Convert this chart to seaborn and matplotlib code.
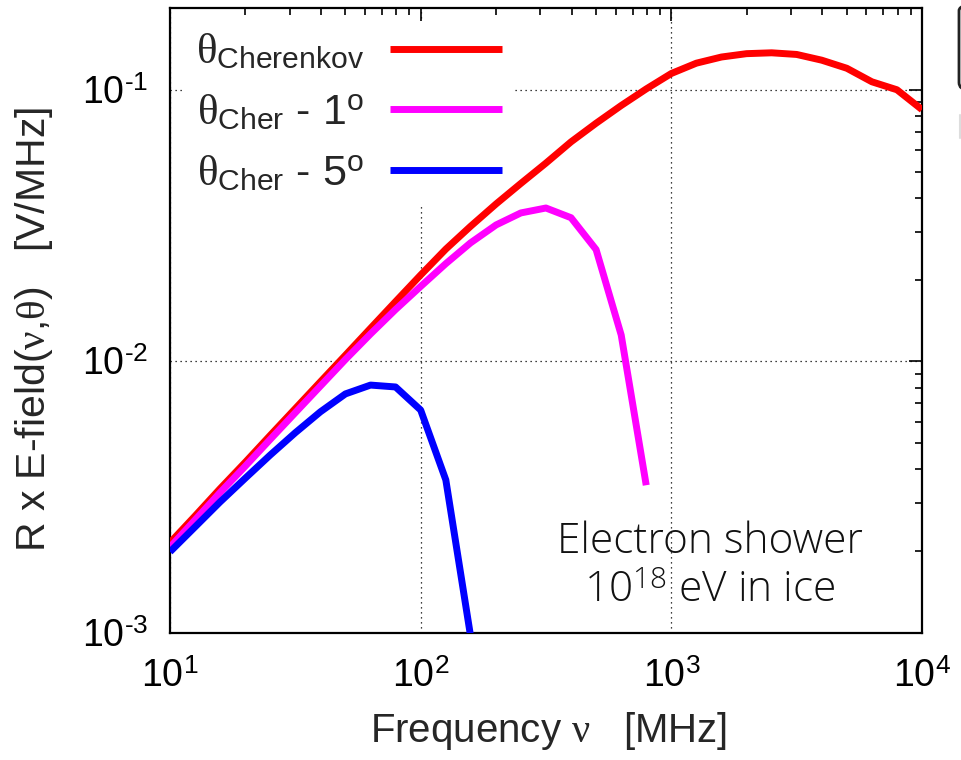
import numpy as np
import pandas as pd
import seaborn as sns
import matplotlib
matplotlib.use("Agg")
import matplotlib.pyplot as plt
from matplotlib.patches import FancyBboxPatch
from matplotlib.lines import Line2D
from matplotlib.ticker import FixedLocator, FixedFormatter, LogLocator, NullFormatter

# ---------------- data ----------------
freq_mhz = [10, 12.6, 15.8, 20, 25.1, 31.6, 39.8, 50.1, 63.1, 79.4,
            100, 126, 158, 200, 251, 316, 398, 501, 631, 794,
            1000, 1259, 1585, 1995, 2512, 3162, 3981, 5012, 6310, 7943, 10000]

e_cherenkov = [0.00215, 0.00270, 0.00339, 0.00426, 0.00534, 0.00670, 0.00841, 0.01054, 0.01324, 0.0166,
               0.0208, 0.0259, 0.0314, 0.0380, 0.0452, 0.0537, 0.0643, 0.0753, 0.0875, 0.1007,
               0.1148, 0.1253, 0.1320, 0.1358, 0.1368, 0.1349, 0.1285, 0.1200, 0.1070, 0.1000, 0.0845]

e_cher_1deg = [0.00207, 0.00261, 0.00328, 0.00412, 0.00516, 0.00647, 0.00811, 0.01016, 0.01262, 0.01552,
               0.01888, 0.0229, 0.0273, 0.0318, 0.0352, 0.0367, 0.0338, 0.0258, 0.0125, 0.0035]

e_cher_5deg = [0.00199, 0.00246, 0.00303, 0.00372, 0.00452, 0.00546, 0.00652, 0.00759, 0.00818, 0.00805,
               0.00662, 0.00366, 0.00098]

series_labels = [r'$\theta_{\mathrm{Cherenkov}}$',
                 r'$\theta_{\mathrm{Cher}}$ - 1$^{\mathrm{o}}$',
                 r'$\theta_{\mathrm{Cher}}$ - 5$^{\mathrm{o}}$']
series_colors = ['#ff0000', '#ff00ff', '#0000ff']

xtick_vals = [10, 100, 1000, 10000]
xtick_labels = [r'$\mathrm{10}^{\mathrm{1}}$', r'$\mathrm{10}^{\mathrm{2}}$',
                r'$\mathrm{10}^{\mathrm{3}}$', r'$\mathrm{10}^{\mathrm{4}}$']
ytick_vals = [0.001, 0.01, 0.1]
ytick_labels = [r'$\mathrm{10}^{\text{-}\mathrm{3}}$', r'$\mathrm{10}^{\text{-}\mathrm{2}}$',
                r'$\mathrm{10}^{\text{-}\mathrm{1}}$']

x_label = r'Frequency $\nu$   [MHz]'
y_label = r'R x E-field($\nu$,$\theta$)   [V/MHz]'
note_line1 = 'Electron shower'
note_line2 = r'$\mathsf{10}^{\mathsf{18}}$ eV in ice'

# ---------------- style ----------------
sns.set_theme(style="white")
plt.rcParams['font.family'] = ['Liberation Sans', 'DejaVu Sans']
plt.rcParams['mathtext.fontset'] = 'custom'
plt.rcParams['mathtext.rm'] = 'Liberation Sans'
plt.rcParams['mathtext.it'] = 'Liberation Serif'
plt.rcParams['mathtext.bf'] = 'Liberation Sans:bold'
plt.rcParams['mathtext.sf'] = 'Open Sans:light'

fig = plt.figure(figsize=(9.61, 7.60), dpi=100)
ax = fig.add_axes([170/961, 127/760, 752/961, 625/760])

frames = []
for lab, vals in zip(series_labels, [e_cherenkov, e_cher_1deg, e_cher_5deg]):
    frames.append(pd.DataFrame({'freq': freq_mhz[:len(vals)], 'E': vals, 'series': lab}))
df = pd.concat(frames, ignore_index=True)

LW = 5.0
for lab, col in zip(series_labels, series_colors):
    sub = df[df['series'] == lab]
    sns.lineplot(data=sub, x='freq', y='E', ax=ax, color=col, lw=LW,
                 label=lab, sort=False, estimator=None, zorder=6,
                 solid_joinstyle='round', solid_capstyle='butt')

ax.set_xscale('log')
ax.set_yscale('log')
ax.set_xlim(10, 10000)
ax.set_ylim(1e-3, 0.2)

ax.xaxis.set_major_locator(FixedLocator(xtick_vals))
ax.xaxis.set_major_formatter(FixedFormatter(xtick_labels))
ax.yaxis.set_major_locator(FixedLocator(ytick_vals))
ax.yaxis.set_major_formatter(FixedFormatter(ytick_labels))
ax.xaxis.set_minor_locator(LogLocator(base=10, subs=np.arange(2, 10), numticks=20))
ax.yaxis.set_minor_locator(LogLocator(base=10, subs=np.arange(2, 10), numticks=20))
ax.xaxis.set_minor_formatter(NullFormatter())
ax.yaxis.set_minor_formatter(NullFormatter())

ax.tick_params(which='both', direction='in', top=True, right=True, colors='black')
ax.tick_params(which='major', length=9.5, width=1.2, labelsize=27)
ax.tick_params(which='minor', length=5, width=1.2)
ax.tick_params(axis='x', which='major', pad=19)
ax.tick_params(axis='y', which='major', pad=16)

for s in ax.spines.values():
    s.set_color('black')
    s.set_linewidth(1.6)
    s.set_visible(True)

ax.grid(which='major', color='black', linestyle=(0, (1, 3)), linewidth=0.9)
ax.set_axisbelow(True)

ax.set_xlabel(x_label, fontsize=29)
ax.set_ylabel(y_label, fontsize=29.5)
ax.xaxis.set_label_coords(0.503, -0.124)
ax.yaxis.set_label_coords(-0.153, 0.485)

leg = ax.legend(loc='upper left', bbox_to_anchor=(15/752, (625 - 14)/625), markerfirst=False,
                frameon=True, fancybox=False, framealpha=1.0, facecolor='white',
                edgecolor='none', fontsize=31, handlelength=2.6, handletextpad=0.6,
                labelspacing=0.48, borderpad=0.25, borderaxespad=0.0)
leg.set_zorder(5)
for h in leg.get_lines():
    h.set_linewidth(LW)

ax.text(0.718, 0.128, note_line1, transform=ax.transAxes, ha='center', va='baseline',
        fontsize=30.5, family='Open Sans', weight='light', color='#111111')
ax.text(0.718, 0.0496, note_line2, transform=ax.transAxes, ha='center', va='baseline',
        fontsize=30.5, family='Open Sans', weight='light', color='#111111')

# partial neighbouring panel visible at right edge
fig.add_artist(FancyBboxPatch((959/961, 670/760), 40/961, 87/760, boxstyle='round,pad=0,rounding_size=0.01',
                              transform=fig.transFigure, facecolor='none', edgecolor='#222222', lw=2.0))
fig.add_artist(Line2D([960/961, 960/961], [622/760, 645/760], transform=fig.transFigure,
                      color='#dddddd', lw=1.5))

fig.savefig('out.png', dpi=100)
